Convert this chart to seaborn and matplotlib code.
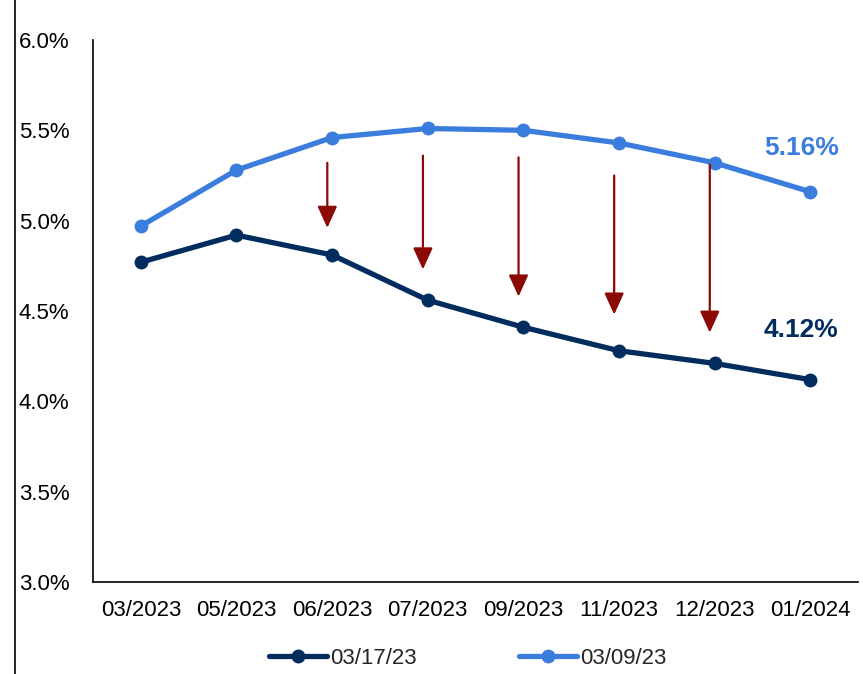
import matplotlib
matplotlib.use("Agg")
import matplotlib.pyplot as plt
import seaborn as sns
import pandas as pd

months = ["03/2023", "05/2023", "06/2023", "07/2023", "09/2023", "11/2023", "12/2023", "01/2024"]
rates_0317 = [4.77, 4.92, 4.81, 4.56, 4.41, 4.28, 4.21, 4.12]
rates_0309 = [4.97, 5.28, 5.46, 5.51, 5.50, 5.43, 5.32, 5.16]
series_names = ["03/17/23", "03/09/23"]
arrow_months = ["06/2023", "07/2023", "09/2023", "11/2023", "12/2023"]
arrow_start = [5.32, 5.36, 5.35, 5.25, 5.31]
arrow_end = [4.96, 4.73, 4.58, 4.48, 4.38]
yticks = [3.0, 3.5, 4.0, 4.5, 5.0, 5.5, 6.0]

sns.set_theme(style="white")
plt.rcParams["font.family"] = ["Liberation Sans", "DejaVu Sans"]

dark = "#002D5E"
light = "#3B7DDD"
red = "#8B0A03"

df = pd.DataFrame({
    "idx": list(range(len(months))) * 2,
    "rate": rates_0317 + rates_0309,
    "series": [series_names[0]] * len(months) + [series_names[1]] * len(months),
})

fig = plt.figure(figsize=(8.63, 6.74), dpi=100)
ax = fig.add_axes([0.1078, 0.1365, 0.8864, 0.8042])
sns.lineplot(data=df, x="idx", y="rate", hue="series", hue_order=series_names,
             palette=[dark, light], marker="o", markersize=10, linewidth=3.8,
             markeredgewidth=0, ax=ax, legend=True)

for m, s, e in zip(arrow_months, arrow_start, arrow_end):
    xi = months.index(m) - 0.05
    ax.annotate("", xy=(xi, e), xytext=(xi, s),
                arrowprops=dict(arrowstyle="-|>,head_length=1.1,head_width=0.5",
                                color=red, lw=1.6, shrinkA=0, shrinkB=0))

ax.text(len(months) - 1 - 0.094, rates_0309[-1] + 0.242, f"{rates_0309[-1]:.2f}%",
        color=light, fontsize=19, fontweight="bold", ha="center", va="center")
ax.text(len(months) - 1 - 0.094, rates_0317[-1] + 0.275, f"{rates_0317[-1]:.2f}%",
        color=dark, fontsize=19, fontweight="bold", ha="center", va="center")

ax.set_xlim(-0.5, len(months) - 0.5)
ax.set_ylim(3.0, 6.0)
ax.set_yticks(yticks)
ax.set_yticklabels([f"{v:.1f}%" for v in yticks])
ax.set_xticks(range(len(months)))
ax.set_xticklabels(months)
ax.tick_params(axis="both", labelsize=16, colors="black", length=0)
ax.tick_params(axis="y", pad=17)
ax.tick_params(axis="x", pad=13)
ax.set_xlabel("")
ax.set_ylabel("")
for sp in ["top", "right"]:
    ax.spines[sp].set_visible(False)
for sp in ["left", "bottom"]:
    ax.spines[sp].set_color("black")
    ax.spines[sp].set_linewidth(1.2)

handles, labels = ax.get_legend_handles_labels()
ax.legend(handles, labels, loc="upper center", bbox_to_anchor=(0.49, -0.085), ncol=2,
          frameon=False, fontsize=16, handlelength=2.6, handletextpad=0.15,
          columnspacing=4.6)

fig.add_artist(plt.Line2D([15 / 863, 15 / 863], [0, 1], color="black", lw=1.2,
                          transform=fig.transFigure))

fig.savefig("out.png", dpi=100)
